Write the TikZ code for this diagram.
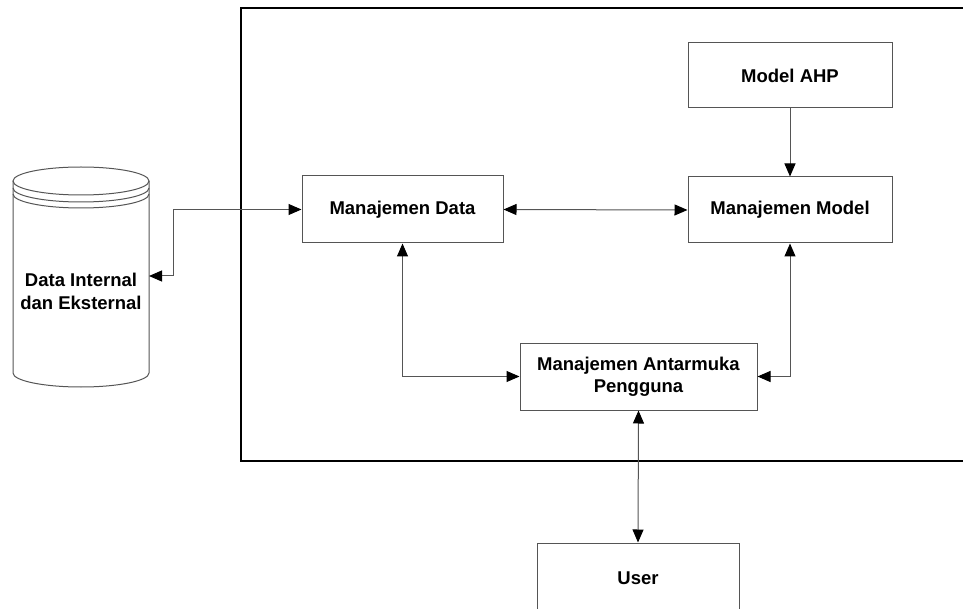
\documentclass[tikz,border=0pt]{standalone}
\usepackage{fontspec}
\setmainfont{Liberation Sans}
\usepackage{xcolor}
\usetikzlibrary{positioning, arrows.meta, calc}
\definecolor{edge}{HTML}{555555}
\definecolor{frameline}{HTML}{000000}
\tikzset{
  dss box/.style={
    draw=edge, line width=1pt, fill=white,
    align=center, font=\fontsize{18.5}{22}\selectfont\bfseries,
    inner sep=0pt
  },
  link/.style={
    {Triangle[length=13pt, width=11pt, color=black]}-{Triangle[length=13pt, width=11pt, color=black]},
    line width=1pt, color=edge
  },
  one way/.style={
    -{Triangle[length=13pt, width=11pt, color=black]},
    line width=1pt, color=edge
  }
}

\begin{document}
\begin{tikzpicture}[x=1pt, y=-1pt]
  \useasboundingbox (0,0) rectangle (963,609);
  \clip (0,0) rectangle (963,609);

  % system frame
  \draw[frameline, line width=1.6pt] (241,8) rectangle (1000,461);

  % database cylinder
  \draw[edge, line width=1pt, fill=white] (13,181) -- (13,373)
    arc[start angle=180, end angle=360, x radius=68pt, y radius=14pt] -- (149,181);
  \draw[edge, line width=1pt] (81,181) ellipse [x radius=68pt, y radius=14pt];
  \draw[edge, line width=1pt] (13,188) arc[start angle=180, end angle=360, x radius=68pt, y radius=14pt];
  \draw[edge, line width=1pt] (13,194) arc[start angle=180, end angle=360, x radius=68pt, y radius=14pt];
  \node[font=\fontsize{18.5}{23}\selectfont\bfseries, align=center] (db) at (81,291) {Data Internal\\dan Eksternal};
  \coordinate (dbR) at (149,276);

  % components
  \node[dss box, minimum width=201pt, minimum height=67pt] (data) at (402.5,209.5) {Manajemen Data};
  \node[dss box, minimum width=204pt, minimum height=66pt] (model) at (790,210) {Manajemen Model};
  \node[dss box, minimum width=204pt, minimum height=65pt] (ahp) at (790,75.5) {Model AHP};
  \node[dss box, minimum width=237pt, minimum height=67pt] (ui) at (638.5,376.5) {Manajemen Antarmuka\\Pengguna};
  \node[dss box, minimum width=202pt, minimum height=70pt] (user) at (638,578) {User};

  % connections
  \draw[link] (dbR) -- ++(24,0) |- (data.west);
  \draw[link] (data.east) -- (model.west);
  \draw[one way] (ahp.south) -- (model.north);
  \draw[link] (data.south) |- (ui.west);
  \draw[link] (model.south) |- (ui.east);
  \draw[link] (ui.south) -- (user.north);

\end{tikzpicture}
\end{document}
